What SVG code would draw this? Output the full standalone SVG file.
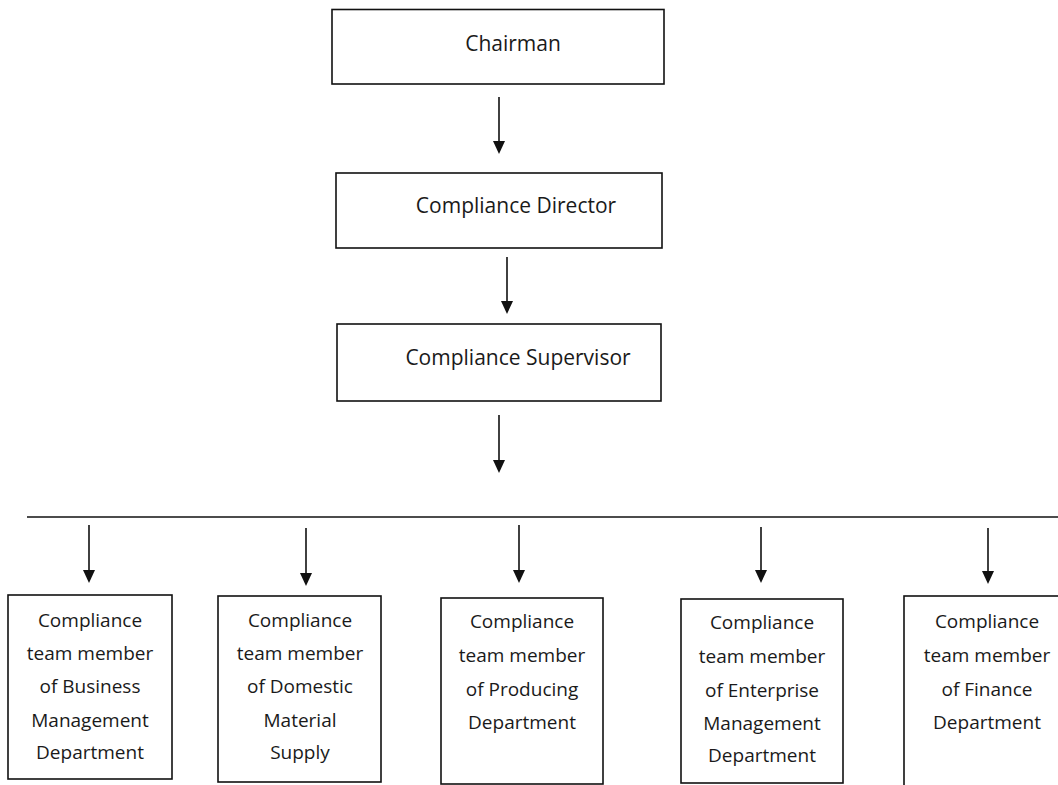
<svg xmlns="http://www.w3.org/2000/svg" width="1058" height="785" viewBox="0 0 1058 785">
<style>
.box{fill:#fff;stroke:#111;stroke-width:1.6}
.t{font-family:"Open Sans","Liberation Sans",sans-serif;fill:#1a1a1a;text-anchor:middle}
.top{font-size:21px}
.low{font-size:19px}
.c{stroke:#111;stroke-width:1.6;fill:none}
.h{fill:#111}
</style>
<rect width="1058" height="785" fill="#fff"/>
<g id="connectors">
<path class="c" d="M499,97 V141"/><path class="h" d="M493,141 L505,141 L499,154 Z"/>
<path class="c" d="M507,257 V301"/><path class="h" d="M501,301 L513,301 L507,314 Z"/>
<path class="c" d="M499,415 V460"/><path class="h" d="M493,460 L505,460 L499,473 Z"/>
<path class="c" d="M27,517 H1058"/>
<path class="c" d="M89,525 V570"/><path class="h" d="M83,570 L95,570 L89,583 Z"/>
<path class="c" d="M306,528 V573"/><path class="h" d="M300,573 L312,573 L306,586 Z"/>
<path class="c" d="M519,525 V570"/><path class="h" d="M513,570 L525,570 L519,583 Z"/>
<path class="c" d="M761,527 V570"/><path class="h" d="M755,570 L767,570 L761,583 Z"/>
<path class="c" d="M988,528 V571"/><path class="h" d="M982,571 L994,571 L988,584 Z"/>
</g>
<g id="chairman">
<rect class="box" x="332" y="9.5" width="332" height="74.5"/>
<text class="t top" x="513" y="51">Chairman</text>
</g>
<g id="director">
<rect class="box" x="336" y="173" width="326" height="75"/>
<text class="t top" x="516" y="213">Compliance Director</text>
</g>
<g id="supervisor">
<rect class="box" x="337" y="324" width="324" height="77"/>
<text class="t top" x="518" y="365">Compliance Supervisor</text>
</g>
<g id="business">
<rect class="box" x="8" y="595" width="164" height="184"/>
<text class="t low" x="90"><tspan x="90" y="627">Compliance</tspan><tspan x="90" y="660">team member</tspan><tspan x="90" y="693">of Business</tspan><tspan x="90" y="727">Management</tspan><tspan x="90" y="759">Department</tspan></text>
</g>
<g id="domestic">
<rect class="box" x="218" y="596" width="163" height="186"/>
<text class="t low" x="300"><tspan x="300" y="627">Compliance</tspan><tspan x="300" y="660">team member</tspan><tspan x="300" y="693">of Domestic</tspan><tspan x="300" y="727">Material</tspan><tspan x="300" y="759">Supply</tspan></text>
</g>
<g id="producing">
<rect class="box" x="441" y="598" width="162" height="186"/>
<text class="t low" x="522"><tspan x="522" y="628">Compliance</tspan><tspan x="522" y="662">team member</tspan><tspan x="522" y="696">of Producing</tspan><tspan x="522" y="729">Department</tspan></text>
</g>
<g id="enterprise">
<rect class="box" x="681" y="599" width="162" height="184"/>
<text class="t low" x="762"><tspan x="762" y="629">Compliance</tspan><tspan x="762" y="663">team member</tspan><tspan x="762" y="697">of Enterprise</tspan><tspan x="762" y="730">Management</tspan><tspan x="762" y="762">Department</tspan></text>
</g>
<g id="finance">
<rect class="box" x="904" y="596" width="170" height="200"/>
<text class="t low" x="987"><tspan x="987" y="628">Compliance</tspan><tspan x="987" y="662">team member</tspan><tspan x="987" y="696">of Finance</tspan><tspan x="987" y="729">Department</tspan></text>
</g>
</svg>
